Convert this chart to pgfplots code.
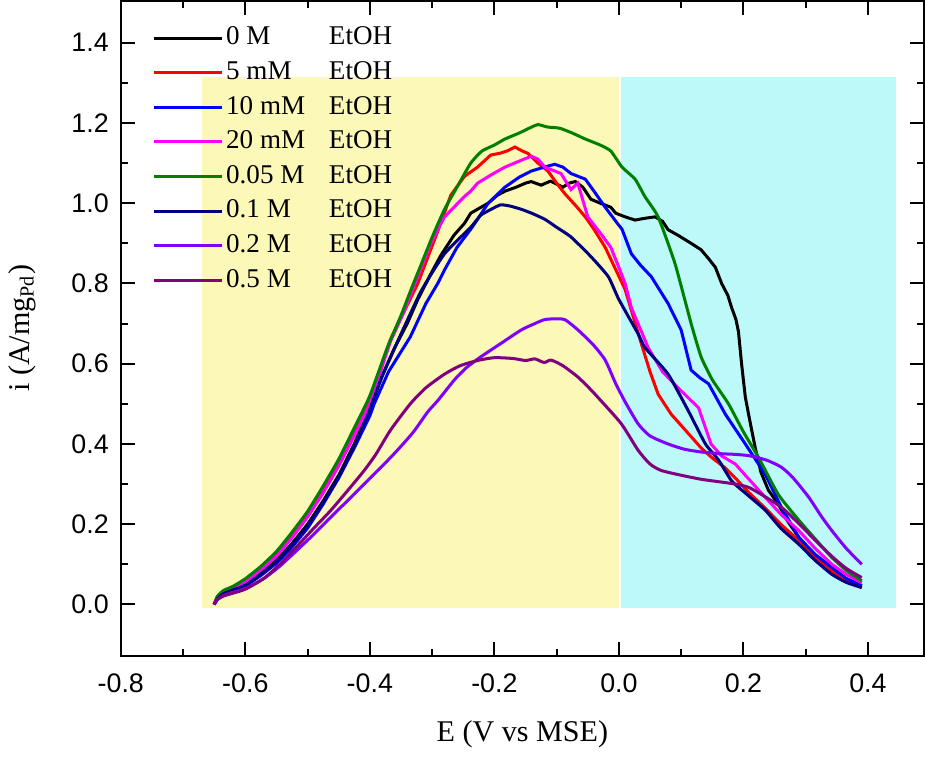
\documentclass[border=0pt]{standalone}
\usepackage{fontspec}
\setmainfont{Liberation Serif}
\newfontfamily\arialfont{Liberation Sans}
\usepackage{pgfplots}
\pgfplotsset{compat=1.18}
\definecolor{shadeY}{HTML}{FCF8B8}
\definecolor{shadeC}{HTML}{BEF9F9}
\definecolor{cGreen}{HTML}{008000}
\definecolor{cNavy}{HTML}{000080}
\definecolor{cViolet}{HTML}{8000FF}
\definecolor{cPurple}{HTML}{800080}
\definecolor{cBlue}{HTML}{0000FF}
\definecolor{cMag}{HTML}{FF00FF}

\begin{document}
\begin{tikzpicture}
\begin{axis}[
  scale only axis,
  width=320.4pt, height=261.2pt,
  xmin=-0.8, xmax=0.49,
  ymin=-0.128, ymax=1.504,
  xtick={-0.8,-0.6,...,0.41},
  ytick={0,0.2,...,1.41},
  minor x tick num=1, minor y tick num=1,
  tick align=inside,
  major tick length=5.6pt, minor tick length=2.8pt,
  axis line style={line width=0.8pt},
  every tick/.style={line width=0.8pt, black},
  /pgf/number format/assume math mode=true,
  /pgf/number format/.cd, fixed, fixed zerofill, precision=1, /pgfplots/.cd,
  ticklabel style={font=\arialfont\fontsize{10.7}{12}\selectfont},
  xticklabel shift=3.5pt,
  yticklabel shift=1.3pt,
  xlabel={E (V vs MSE)},
  ylabel={i (A/mg\textsubscript{Pd})},
  label style={font=\fontsize{12}{14}\selectfont},
  xlabel style={at={(axis description cs:0.5,-0.086)}, anchor=north},
  ylabel style={at={(axis description cs:-0.114,0.5)}, anchor=base},
  legend style={at={(axis description cs:0.03,0.975)}, anchor=north west,
    draw=none, fill=none, font=\fontsize{10.8}{13}\selectfont,
    row sep=1.6pt,
    nodes={inner sep=1pt, text height=7.8pt, text depth=2.4pt}},
  legend cell align=left,
  legend image code/.code={\draw[#1] (0cm,0cm) -- (0.95cm,0cm);},
  every axis plot/.append style={line width=1.2pt},
]
% shaded regions
\addplot[fill=shadeY, draw=none, forget plot] coordinates {(-0.6696,-0.01) (0.0,-0.01) (0.0,1.314) (-0.6696,1.314)} -- cycle;
\addplot[fill=shadeC, draw=none, forget plot] coordinates {(0.0035,-0.01) (0.4448,-0.01) (0.4448,1.314) (0.0035,1.314)} -- cycle;

% 0 M
\addplot[black] coordinates {
(-0.650,0.000) (-0.645,0.015) (-0.635,0.028) (-0.62,0.037) (-0.60,0.050) (-0.575,0.078) (-0.55,0.11) (-0.525,0.152) (-0.50,0.20) (-0.475,0.258) (-0.45,0.322) (-0.425,0.40) (-0.404,0.48) (-0.38,0.57) (-0.36,0.64) (-0.34,0.70) (-0.323,0.76) (-0.30,0.83) (-0.286,0.87) (-0.265,0.92) (-0.248,0.95) (-0.238,0.975) (-0.227,0.985) (-0.21,1.0) (-0.195,1.02) (-0.183,1.03) (-0.165,1.04) (-0.15,1.05) (-0.141,1.054) (-0.125,1.045) (-0.11,1.055) (-0.103,1.05) (-0.09,1.04) (-0.08,1.05) (-0.07,1.054) (-0.058,1.04) (-0.045,1.01) (-0.03,1.0) (-0.013,0.99) (-0.005,0.975) (0.01,0.966) (0.026,0.958) (0.04,0.962) (0.058,0.966) (0.07,0.955) (0.079,0.934) (0.095,0.92) (0.116,0.90) (0.132,0.884) (0.145,0.86) (0.155,0.84) (0.165,0.80) (0.175,0.77) (0.181,0.74) (0.188,0.71) (0.192,0.68) (0.197,0.60) (0.203,0.517) (0.21,0.46) (0.219,0.39) (0.228,0.33) (0.24,0.285) (0.256,0.25) (0.27,0.21) (0.289,0.167) (0.315,0.12) (0.342,0.084) (0.365,0.062) (0.39,0.047)
};
\addlegendentry{\makebox[41pt][l]{0 M}EtOH}

% 5 mM
\addplot[red] coordinates {
(-0.650,0.000) (-0.645,0.018) (-0.635,0.032) (-0.62,0.042) (-0.60,0.058) (-0.575,0.088) (-0.55,0.124) (-0.525,0.17) (-0.50,0.222) (-0.475,0.282) (-0.45,0.35) (-0.425,0.425) (-0.40,0.505) (-0.367,0.66) (-0.345,0.73) (-0.323,0.80) (-0.291,0.93) (-0.27,1.02) (-0.248,1.067) (-0.227,1.09) (-0.206,1.12) (-0.19,1.125) (-0.18,1.13) (-0.167,1.14) (-0.155,1.13) (-0.146,1.124) (-0.13,1.10) (-0.114,1.08) (-0.10,1.05) (-0.087,1.024) (-0.07,0.995) (-0.054,0.966) (-0.04,0.935) (-0.022,0.89) (0.01,0.785) (0.036,0.65) (0.05,0.58) (0.063,0.524) (0.084,0.474) (0.107,0.434) (0.132,0.39) (0.15,0.365) (0.171,0.34) (0.19,0.31) (0.208,0.28) (0.235,0.24) (0.26,0.2) (0.289,0.159) (0.315,0.12) (0.342,0.084) (0.365,0.06) (0.39,0.042)
};
\addlegendentry{\makebox[41pt][l]{5 mM}EtOH}

% 10 mM
\addplot[cBlue] coordinates {
(-0.650,0.000) (-0.645,0.013) (-0.635,0.025) (-0.62,0.034) (-0.60,0.046) (-0.575,0.072) (-0.55,0.103) (-0.525,0.143) (-0.50,0.19) (-0.475,0.25) (-0.45,0.315) (-0.425,0.39) (-0.40,0.47) (-0.393,0.50) (-0.37,0.58) (-0.335,0.667) (-0.31,0.75) (-0.291,0.80) (-0.28,0.834) (-0.26,0.89) (-0.238,0.935) (-0.227,0.96) (-0.21,1.0) (-0.183,1.04) (-0.16,1.065) (-0.141,1.08) (-0.12,1.09) (-0.103,1.097) (-0.09,1.09) (-0.077,1.074) (-0.054,1.06) (-0.04,1.03) (-0.022,0.99) (-0.005,0.955) (0.005,0.935) (0.02,0.874) (0.035,0.845) (0.052,0.817) (0.079,0.75) (0.10,0.684) (0.116,0.584) (0.13,0.565) (0.144,0.55) (0.171,0.474) (0.203,0.40) (0.22,0.36) (0.235,0.324) (0.261,0.242) (0.289,0.167) (0.315,0.125) (0.342,0.092) (0.365,0.065) (0.39,0.047)
};
\addlegendentry{\makebox[41pt][l]{10 mM}EtOH}

% 20 mM
\addplot[cMag] coordinates {
(-0.650,0.000) (-0.645,0.017) (-0.635,0.030) (-0.62,0.040) (-0.60,0.056) (-0.575,0.086) (-0.55,0.12) (-0.525,0.166) (-0.50,0.218) (-0.475,0.278) (-0.45,0.345) (-0.425,0.42) (-0.40,0.50) (-0.367,0.655) (-0.345,0.73) (-0.32,0.83) (-0.302,0.90) (-0.291,0.934) (-0.28,0.966) (-0.248,1.017) (-0.238,1.03) (-0.227,1.05) (-0.206,1.07) (-0.183,1.09) (-0.16,1.105) (-0.141,1.117) (-0.13,1.11) (-0.119,1.09) (-0.093,1.074) (-0.077,1.034) (-0.066,1.05) (-0.05,0.966) (-0.029,0.924) (-0.013,0.89) (0.0,0.84) (0.01,0.80) (0.02,0.74) (0.047,0.64) (0.07,0.58) (0.095,0.54) (0.128,0.49) (0.148,0.40) (0.165,0.37) (0.187,0.35) (0.21,0.31) (0.235,0.267) (0.26,0.225) (0.289,0.184) (0.315,0.14) (0.342,0.10) (0.365,0.075) (0.39,0.054)
};
\addlegendentry{\makebox[41pt][l]{20 mM}EtOH}

% 0.05 M
\addplot[cGreen, smooth, tension=0.3] coordinates {
(-0.650,0.000) (-0.645,0.020) (-0.635,0.035) (-0.62,0.045) (-0.60,0.064) (-0.575,0.095) (-0.55,0.132) (-0.525,0.18) (-0.50,0.232) (-0.475,0.295) (-0.45,0.362) (-0.425,0.44) (-0.40,0.52) (-0.372,0.64) (-0.35,0.72) (-0.335,0.78) (-0.30,0.915) (-0.28,0.985) (-0.26,1.04) (-0.238,1.10) (-0.22,1.13) (-0.20,1.145) (-0.183,1.16) (-0.16,1.175) (-0.14,1.19) (-0.13,1.196) (-0.115,1.19) (-0.10,1.188) (-0.093,1.186) (-0.075,1.175) (-0.054,1.16) (-0.03,1.145) (-0.013,1.13) (0.005,1.09) (0.026,1.06) (0.042,1.016) (0.063,0.966) (0.09,0.85) (0.116,0.70) (0.132,0.617) (0.15,0.56) (0.176,0.50) (0.20,0.43) (0.224,0.367) (0.256,0.274) (0.289,0.21) (0.32,0.155) (0.342,0.117) (0.365,0.085) (0.39,0.059)
};
\addlegendentry{\makebox[41pt][l]{0.05 M}EtOH}

% 0.1 M
\addplot[cNavy, smooth, tension=0.3] coordinates {
(-0.650,0.000) (-0.645,0.014) (-0.635,0.027) (-0.62,0.036) (-0.60,0.048) (-0.575,0.075) (-0.55,0.107) (-0.525,0.148) (-0.50,0.196) (-0.475,0.254) (-0.45,0.318) (-0.425,0.395) (-0.404,0.47) (-0.38,0.57) (-0.36,0.64) (-0.318,0.78) (-0.28,0.874) (-0.238,0.94) (-0.222,0.97) (-0.205,0.985) (-0.19,0.996) (-0.175,0.993) (-0.157,0.985) (-0.14,0.975) (-0.119,0.96) (-0.1,0.94) (-0.077,0.916) (-0.045,0.867) (-0.017,0.817) (0.0,0.76) (0.031,0.674) (0.042,0.64) (0.079,0.574) (0.111,0.484) (0.139,0.40) (0.16,0.36) (0.181,0.308) (0.205,0.275) (0.235,0.235) (0.26,0.19) (0.289,0.15) (0.315,0.11) (0.342,0.075) (0.365,0.055) (0.39,0.042)
};
\addlegendentry{\makebox[41pt][l]{0.1 M}EtOH}

% 0.2 M
\addplot[cViolet, smooth, tension=0.4] coordinates {
(-0.650,0.000) (-0.645,0.012) (-0.635,0.022) (-0.62,0.030) (-0.60,0.040) (-0.57,0.065) (-0.545,0.095) (-0.517,0.135) (-0.49,0.175) (-0.463,0.217) (-0.435,0.26) (-0.409,0.30) (-0.38,0.345) (-0.356,0.384) (-0.33,0.43) (-0.307,0.48) (-0.291,0.508) (-0.264,0.56) (-0.245,0.59) (-0.222,0.617) (-0.19,0.65) (-0.157,0.684) (-0.135,0.70) (-0.119,0.71) (-0.1,0.712) (-0.087,0.71) (-0.07,0.69) (-0.054,0.667) (-0.04,0.645) (-0.022,0.609) (-0.005,0.55) (0.01,0.505) (0.031,0.45) (0.05,0.42) (0.079,0.40) (0.105,0.387) (0.132,0.38) (0.16,0.376) (0.187,0.374) (0.208,0.371) (0.225,0.365) (0.24,0.358) (0.261,0.342) (0.28,0.315) (0.305,0.267) (0.325,0.22) (0.342,0.184) (0.365,0.14) (0.39,0.10)
};
\addlegendentry{\makebox[41pt][l]{0.2 M}EtOH}

% 0.5 M
\addplot[cPurple, smooth, tension=0.4] coordinates {
(-0.650,0.000) (-0.645,0.012) (-0.635,0.021) (-0.62,0.028) (-0.60,0.038) (-0.57,0.065) (-0.545,0.10) (-0.517,0.145) (-0.49,0.19) (-0.463,0.234) (-0.435,0.285) (-0.409,0.334) (-0.39,0.375) (-0.367,0.434) (-0.335,0.50) (-0.31,0.54) (-0.28,0.574) (-0.255,0.595) (-0.227,0.608) (-0.2,0.615) (-0.17,0.613) (-0.15,0.608) (-0.135,0.612) (-0.12,0.603) (-0.109,0.609) (-0.09,0.595) (-0.066,0.567) (-0.045,0.535) (-0.029,0.508) (0.004,0.45) (0.031,0.384) (0.05,0.35) (0.068,0.334) (0.1,0.322) (0.132,0.312) (0.16,0.306) (0.187,0.30) (0.208,0.292) (0.229,0.274) (0.261,0.242) (0.29,0.2) (0.316,0.159) (0.342,0.12) (0.365,0.09) (0.39,0.067)
};
\addlegendentry{\makebox[41pt][l]{0.5 M}EtOH}
\end{axis}
\end{tikzpicture}
\end{document}
